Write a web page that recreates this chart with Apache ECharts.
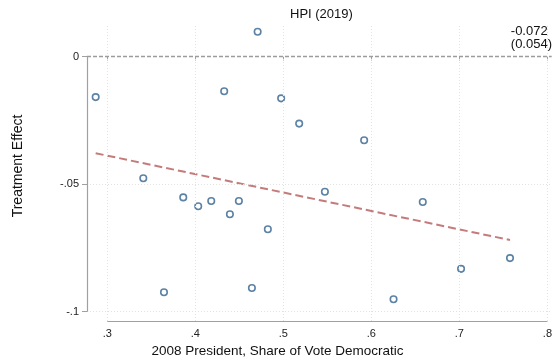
<!DOCTYPE html>
<html>
<head>
<meta charset="utf-8">
<script src="https://cdn.jsdelivr.net/npm/echarts@6/dist/echarts.min.js"></script>
<style>html,body{margin:0;padding:0;background:#fff}#c{width:555px;height:358px}</style>
</head>
<body>
<div id="c"></div>
<script>
// ---- data ----
const voteShare = [0.2868, 0.4328, 0.4708, 0.4975, 0.5180, 0.5918, 0.3409, 0.3863, 0.4033, 0.4181,
                   0.4393, 0.4495, 0.3644, 0.4824, 0.4643, 0.5472, 0.6252, 0.6584, 0.7019, 0.7575];
const treatEffect = [-0.0159, -0.0136, 0.0097, -0.0164, -0.0263, -0.0328, -0.0477, -0.0552, -0.0587, -0.0566,
                     -0.0618, -0.0566, -0.0924, -0.0677, -0.0907, -0.0530, -0.0951, -0.0570, -0.0832, -0.0790];
const fitX = [0.2868, 0.7575];
const fitY = [-0.0379, -0.0719];
const xTicks = [0.3, 0.4, 0.5, 0.6, 0.7, 0.8];
const xTickLabels = ['.3', '.4', '.5', '.6', '.7', '.8'];
const yTicks = [-0.1, -0.05, 0];
const yTickLabels = ['-.1', '-.05', '0'];
const yGridTicks = [-0.1, -0.05];
const titleText = 'HPI (2019)';
const coefText = '-0.072';
const seText = '(0.054)';
const xTitle = '2008 President, Share of Vote Democratic';
const yTitle = 'Treatment Effect';

// ---- layout ----
const X_MIN = 0.27695, X_MAX = 0.80488, Y_MIN = -0.10364, Y_MAX = 0.012735;
const FONT = 'Liberation Sans, Arial, sans-serif';
const axisGray = '#a0a0a0';

const points = voteShare.map((v, i) => [v, treatEffect[i]]);
const fitLine = fitX.map((v, i) => [v, fitY[i]]);

const chart = echarts.init(document.getElementById('c'), null, {renderer: 'canvas'});
chart.setOption({
  animation: false,
  backgroundColor: '#fff',
  grid: {left: 87, right: 3, top: 24, bottom: 37, containLabel: false},
  xAxis: {
    type: 'value', min: X_MIN, max: X_MAX,
    axisLine: {show: false},
    splitLine: {show: false},
    axisTick: {show: true, customValues: xTicks, length: 4, lineStyle: {color: axisGray, width: 1}},
    axisLabel: {show: true, customValues: xTicks, margin: 7, fontSize: 11, fontFamily: FONT, color: '#222',
      formatter: v => { const i = xTicks.findIndex(t => Math.abs(t - v) < 1e-9); return i >= 0 ? xTickLabels[i] : ''; }}
  },
  yAxis: {
    type: 'value', min: Y_MIN, max: Y_MAX,
    axisLine: {show: false},
    splitLine: {show: false},
    axisTick: {show: true, customValues: yTicks, length: 5, lineStyle: {color: axisGray, width: 1}},
    axisLabel: {show: true, customValues: yTicks, margin: 8, fontSize: 11, fontFamily: FONT, color: '#222',
      formatter: v => { const i = yTicks.findIndex(t => Math.abs(t - v) < 1e-9); return i >= 0 ? yTickLabels[i] : ''; }}
  },
  graphic: [
    {type: 'text', left: 290, top: 8, style: {text: titleText, font: '13px ' + FONT, fill: '#111'}},
    {type: 'text', right: 3, top: 25, style: {text: coefText + '\n' + seText, font: '13px ' + FONT, fill: '#111', align: 'right', lineHeight: 13}},
    {type: 'text', left: 'center', top: 344, style: {text: xTitle, font: '13.5px ' + FONT, fill: '#111'}},
    {type: 'text', rotation: Math.PI / 2, x: 18, y: 166, style: {text: yTitle, font: '14px ' + FONT, fill: '#111', align: 'center', verticalAlign: 'middle'}}
  ],
  series: [
    {
      type: 'line', data: [], silent: true, clip: false,
      markLine: {
        silent: true, symbol: 'none', label: {show: false}, animation: false,
        data: [
          ...xTicks.map(v => ({xAxis: v, lineStyle: {color: '#e2e2e2', type: [1, 2], width: 1}})),
          ...yGridTicks.map(v => ({yAxis: v, lineStyle: {color: '#e2e2e2', type: [1, 2], width: 1}})),
          {yAxis: 0, lineStyle: {color: '#9c9c9c', type: [4, 2], width: 1.4}},
          [{coord: [X_MIN, yTicks[0]], lineStyle: {color: axisGray, type: 'solid', width: 1.2}}, {coord: [X_MIN, yTicks[yTicks.length - 1]]}],
          [{coord: [xTicks[0], Y_MIN], lineStyle: {color: axisGray, type: 'solid', width: 1.2}}, {coord: [xTicks[xTicks.length - 1], Y_MIN]}]
        ]
      }
    },
    {
      type: 'line', data: fitLine, symbol: 'none', silent: true,
      lineStyle: {color: '#c47b7b', width: 2, type: [8, 4]}
    },
    {
      type: 'scatter', data: points, symbol: 'circle', symbolSize: 6.5,
      itemStyle: {color: '#fff', borderColor: '#33638f', borderWidth: 1.6}
    }
  ]
});
</script>
</body>
</html>
